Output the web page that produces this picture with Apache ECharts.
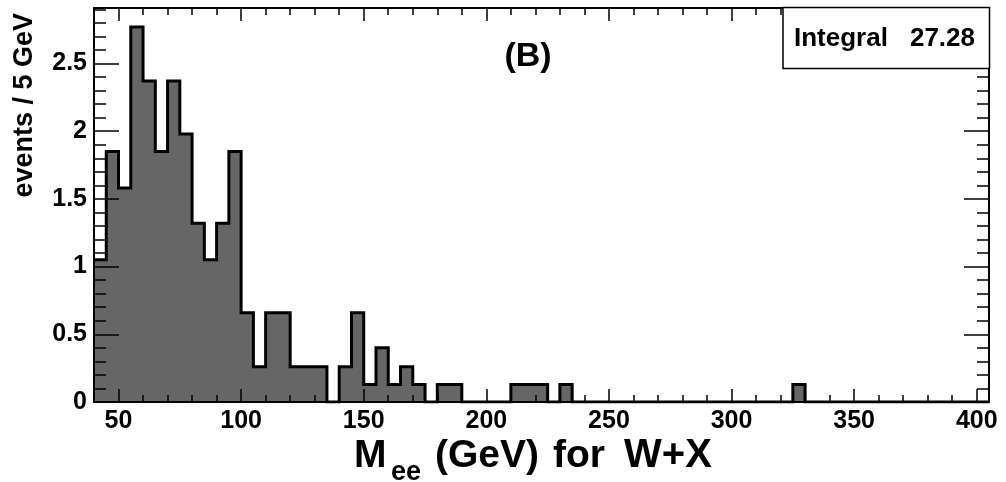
<!DOCTYPE html>
<html>
<head>
<meta charset="utf-8">
<script src="https://cdn.jsdelivr.net/npm/echarts@6/dist/echarts.min.js"></script>
<style>
  html, body { margin: 0; padding: 0; background: #ffffff; }
  #chart { width: 1006px; height: 482px; }
</style>
</head>
<body>
<div id="chart"></div>
<script>
// Di-electron invariant mass, 5 GeV bins from 40 to 405 GeV
const binStart = 40;
const binWidth = 5;
const xMin = 40;
const xMax = 405;
const yMin = 0;
const yMax = 2.91;

// Bin contents (events / 5 GeV), one value per bin starting at 40 GeV
const binValues = [
  1.05, 1.85, 1.58, 2.77, 2.37, 1.85, 2.37, 1.98, 1.32, 1.05, // 40 - 90
  1.32, 1.85, 0.66, 0.26, 0.66, 0.66, 0.26, 0.26, 0.26, 0.00, // 90 - 140
  0.26, 0.66, 0.13, 0.40, 0.13, 0.26, 0.13, 0.00, 0.13, 0.13, // 140 - 190
  0.00, 0.00, 0.00, 0.00, 0.13, 0.13, 0.13, 0.00, 0.13, 0.00, // 190 - 240
  0.00, 0.00, 0.00, 0.00, 0.00, 0.00, 0.00, 0.00, 0.00, 0.00, // 240 - 290
  0.00, 0.00, 0.00, 0.00, 0.00, 0.00, 0.00, 0.13, 0.00, 0.00, // 290 - 340
  0.00, 0.00, 0.00, 0.00, 0.00, 0.00, 0.00, 0.00, 0.00, 0.00, // 340 - 390
  0.00, 0.00, 0.00                                            // 390 - 405
];

// Tick values
const xMajorTicks = [50, 100, 150, 200, 250, 300, 350, 400];
const yMajorTicks = [0, 0.5, 1, 1.5, 2, 2.5];
const xMinorTicks = [];
for (let v = 40; v <= 400; v += 10) xMinorTicks.push(v);
const yMinorTicks = [];
for (let k = 0; k <= 29; k++) yMinorTicks.push(+(k * 0.1).toFixed(1));

// Texts
const integralLabel = 'Integral';
const integralValue = '27.28';
const panelLabel = '(B)';
const yTitle = 'events / 5 GeV';
const xTitleMain = 'M';
const xTitleSub = 'ee';
const xTitleUnit = '(GeV)';
const xTitleFor = 'for';
const xTitleProc = 'W+X';

// Step outline points: left edge of every bin, closed at the upper edge
const histPoints = binValues.map((v, i) => [binStart + i * binWidth, v]);
histPoints.push([xMax, binValues[binValues.length - 1]]);

const FONT = '"Liberation Sans", Arial, Helvetica, sans-serif';

function xAxisDef(position, major, showLabels) {
  return {
    type: 'value', position: position, min: xMin, max: xMax, z: 10,
    axisLine: { show: major, onZero: false, lineStyle: { color: '#000', width: 2 } },
    axisTick: {
      show: true, inside: true, length: major ? 13 : 7,
      customValues: major ? xMajorTicks : xMinorTicks,
      lineStyle: { color: '#000', width: 1.5 }
    },
    axisLabel: {
      show: showLabels, customValues: xMajorTicks, margin: 7,
      color: '#000', fontFamily: FONT, fontWeight: 'bold', fontSize: 25
    },
    splitLine: { show: false }
  };
}

function yAxisDef(position, major, showLabels) {
  return {
    type: 'value', position: position, min: yMin, max: yMax, z: 10,
    axisLine: { show: major, onZero: false, lineStyle: { color: '#000', width: 2 } },
    axisTick: {
      show: true, inside: true, length: major ? 25 : 12,
      customValues: major ? yMajorTicks : yMinorTicks,
      lineStyle: { color: '#000', width: 1.5 }
    },
    axisLabel: {
      show: showLabels, customValues: yMajorTicks, margin: 7,
      color: '#000', fontFamily: FONT, fontWeight: 'bold', fontSize: 25
    },
    splitLine: { show: false }
  };
}

function label(text, x, y, size, align, extra) {
  return Object.assign({
    type: 'text', x: x, y: y,
    style: {
      text: text, align: align, verticalAlign: 'middle',
      font: 'bold ' + size + 'px ' + FONT, fill: '#000'
    }
  }, extra || {});
}

const chart = echarts.init(document.getElementById('chart'), null, { renderer: 'canvas' });

chart.setOption({
  animation: false,
  backgroundColor: '#ffffff',
  grid: { left: 94, right: 17, top: 8, bottom: 80, show: false, outerBoundsMode: 'none' },
  xAxis: [
    xAxisDef('bottom', true, true),
    xAxisDef('bottom', false, false),
    xAxisDef('top', true, false),
    xAxisDef('top', false, false)
  ],
  yAxis: [
    yAxisDef('left', true, true),
    yAxisDef('left', false, false),
    yAxisDef('right', true, false),
    yAxisDef('right', false, false)
  ],
  series: [{
    type: 'line',
    xAxisIndex: 0,
    yAxisIndex: 0,
    step: 'end',
    data: histPoints,
    symbol: 'none',
    showSymbol: false,
    lineStyle: { color: '#000', width: 3, join: 'miter' },
    areaStyle: { color: '#666666', opacity: 1 },
    z: 2
  }],
  graphic: [
    label(yTitle, 25, 13, 27, 'right', { rotation: Math.PI / 2 }),
    label(panelLabel, 528, 57, 34, 'center'),
    {
      type: 'rect', z: 20,
      shape: { x: 783, y: 7.5, width: 206.5, height: 61 },
      style: { fill: '#ffffff', stroke: '#000', lineWidth: 1.5 }
    },
    label(integralLabel, 794, 38.5, 26, 'left', { z: 21 }),
    label(integralValue, 975, 38.5, 26, 'right', { z: 21 }),
    label(xTitleMain, 354, 456, 39, 'left'),
    label(xTitleSub, 391, 473, 27, 'left'),
    label(xTitleUnit, 435, 456, 39, 'left'),
    label(xTitleFor, 553, 456, 39, 'left'),
    label(xTitleProc, 668, 456, 40, 'center')
  ]
});
</script>
</body>
</html>
